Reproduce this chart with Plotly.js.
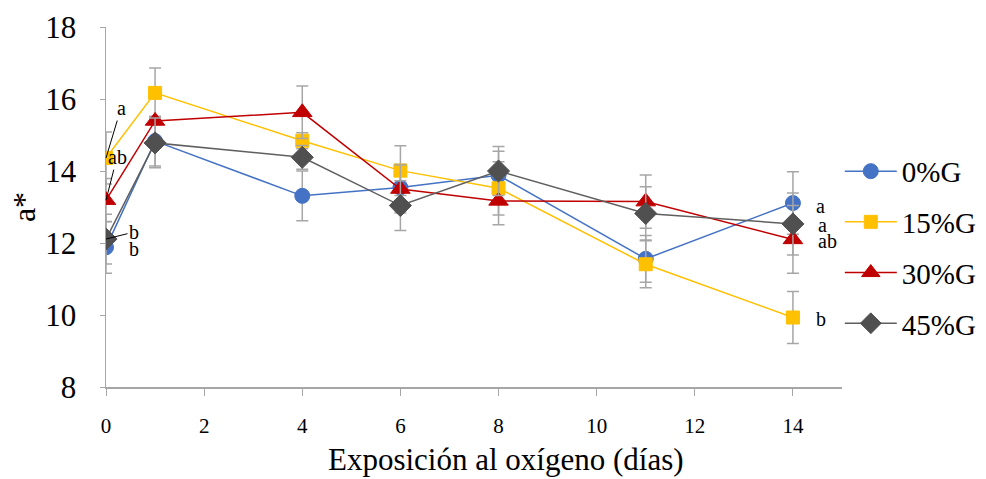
<!DOCTYPE html>
<html>
<head>
<meta charset="utf-8">
<script src="https://cdn.plot.ly/plotly-3.0.1.min.js"></script>
<style>html,body{margin:0;padding:0;background:#fff;}#chart{width:986px;height:479px;}</style>
</head>
<body>
<div id="chart"></div>
<script>
const days = [0, 1, 4, 6, 8, 11, 14];
const seriesNames = ["0%G", "15%G", "30%G", "45%G"];
const g0 = [11.88, 14.83, 13.31, 13.54, 13.88, 11.56, 13.11];
const g15 = [14.36, 16.17, 14.84, 14.01, 13.52, 11.41, 9.93];
const g30 = [13.19, 15.39, 15.63, 13.50, 13.17, 13.15, 12.10];
const g45 = [12.11, 14.78, 14.38, 13.04, 14.00, 12.82, 12.53];
const e0 = [0.72, 0.69, 0.69, 0.65, 0.67, 0.65, 0.87];
const e15 = [0.72, 0.69, 0.22, 0.69, 0.74, 0.65, 0.72];
const e30 = [0.60, 0.10, 0.73, 0.67, 0.66, 0.74, 0.94];
const e45 = [0.69, 0.69, 0.33, 0.69, 0.68, 0.74, 0.86];
const xTicks = [0, 2, 4, 6, 8, 10, 12, 14];
const yTicks = [8, 10, 12, 14, 16, 18];
const letters0 = ["b", "a"];
const letters15 = ["a", "b"];
const letters30 = ["ab", "ab"];
const letters45 = ["b", "a"];
const xTitle = "Exposición al oxígeno (días)";
const yTitle = "a*";

const FONT = "Times New Roman, Liberation Serif, serif";
const errStyle = (arr) => ({type: "data", array: arr, visible: true, color: "#a6a6a6", thickness: 1.5, width: 6});

function mk(name, y, err, color, lineColor, symbol, size, grp) {
  return {
    x: days, y: y, name: name, type: "scatter", mode: "lines+markers",
    legendgroup: grp,
    line: {color: lineColor, width: 1.5},
    marker: {color: color, symbol: symbol, size: size, line: {color: color, width: 1}},
    error_y: errStyle(err)
  };
}

const traces = [
  mk(seriesNames[0], g0, e0, "#4472C4", "#4472C4", "circle", 15, "g1"),
  mk(seriesNames[1], g15, e15, "#FFC000", "#FFC000", "square", 13, "g2"),
  mk(seriesNames[2], g30, e30, "#C00000", "#C00000", "triangle-up", 17, "g3"),
  mk(seriesNames[3], g45, e45, "#505050", "#5f5f5f", "diamond", 17, "g4")
];

const annFont = {family: FONT, size: 20, color: "#000"};
const last = days.length - 1;
const annotations = [
  {x: days[0], y: g15[0], text: letters15[0], showarrow: true, arrowhead: 0, arrowwidth: 1, arrowcolor: "#000", ax: 15, ay: -50, standoff: 0, font: annFont},
  {x: days[0], y: g30[0], text: letters30[0], showarrow: true, arrowhead: 0, arrowwidth: 1, arrowcolor: "#000", ax: 11, ay: -43, standoff: 0, font: annFont},
  {x: days[0], y: g45[0], text: letters45[0], showarrow: true, arrowhead: 0, arrowwidth: 1, arrowcolor: "#000", ax: 28, ay: -7, standoff: 0, font: annFont},
  {x: days[0], y: g0[0], text: letters0[0], showarrow: false, xshift: 28, yshift: -2, font: annFont},
  {x: days[last], y: g0[last], text: letters0[1], showarrow: false, xshift: 28, yshift: -3, font: annFont},
  {x: days[last], y: g45[last], text: letters45[1], showarrow: false, xshift: 30, yshift: -1, font: annFont},
  {x: days[last], y: g30[last], text: letters30[1], showarrow: false, xshift: 35, yshift: -2, font: annFont},
  {x: days[last], y: g15[last], text: letters15[1], showarrow: false, xshift: 28, yshift: -1, font: annFont},
  {xref: "paper", yref: "paper", x: 0.5435, y: -0.2, xanchor: "center", yanchor: "middle", showarrow: false,
   text: xTitle, font: {family: FONT, size: 31, color: "#000"}}
];

const layout = {
  width: 986, height: 479,
  margin: {l: 106, r: 144, t: 27, b: 92, autoexpand: false},
  paper_bgcolor: "#fff", plot_bgcolor: "#fff",
  font: {family: FONT, color: "#000"},
  showlegend: true,
  legend: {
    x: 0.997, xanchor: "left", y: 0.67, yanchor: "top",
    font: {family: FONT, size: 29, color: "#000"},
    itemwidth: 52, traceorder: "grouped", tracegroupgap: 10,
    bgcolor: "rgba(0,0,0,0)"
  },
  xaxis: {
    range: [0, 15], tickvals: xTicks, ticktext: xTicks.map(String),
    showgrid: false, zeroline: false, showline: true, linecolor: "#a6a6a6", linewidth: 1.5,
    ticks: "outside", ticklen: 7, tickcolor: "#a6a6a6", tickwidth: 1,
    tickfont: {family: FONT, size: 21, color: "#000"}, ticklabelstandoff: 12
  },
  yaxis: {
    range: [8, 18], tickvals: yTicks, ticktext: yTicks.map(String),
    showgrid: false, zeroline: false, showline: true, linecolor: "#a6a6a6", linewidth: 1.5,
    ticks: "outside", ticklen: 5, tickcolor: "#a6a6a6", tickwidth: 1,
    tickfont: {family: FONT, size: 31, color: "#000"}, ticklabelstandoff: 17,
    title: {text: yTitle, font: {family: FONT, size: 32, color: "#000"}, standoff: 0}
  },
  annotations: annotations
};

Plotly.newPlot("chart", traces, layout, {displayModeBar: false, staticPlot: true});
</script>
</body>
</html>
